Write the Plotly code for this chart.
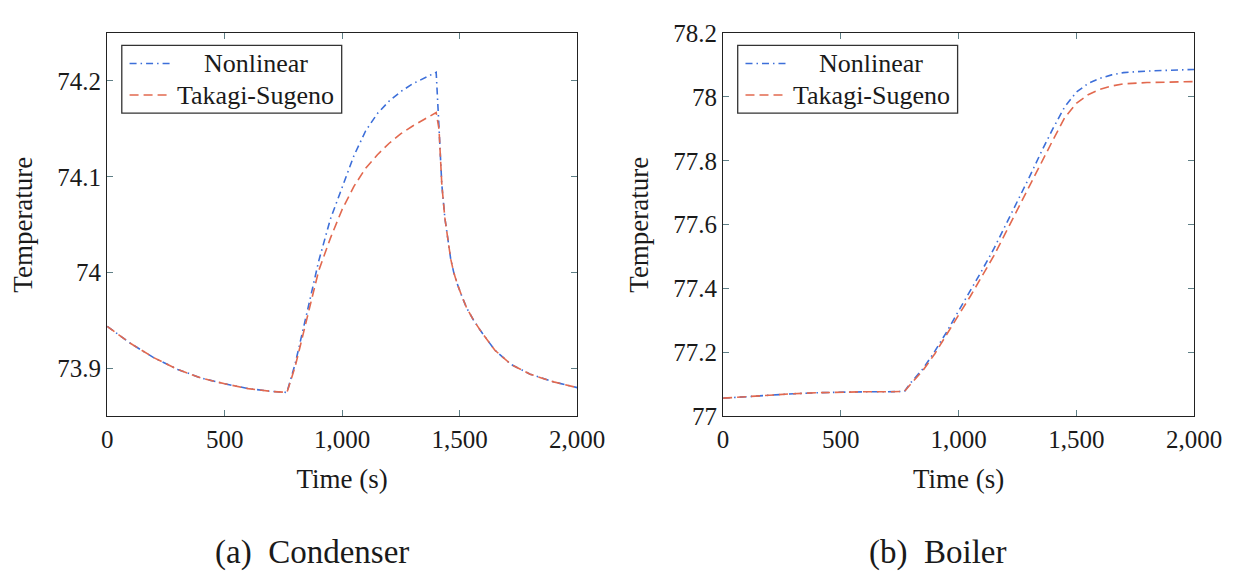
import plotly.graph_objects as go

# ---- data -------------------------------------------------------------
# Condenser temperature response
t_cond = [0, 100, 200, 300, 400, 500, 600, 700, 765, 800, 850, 900, 950, 1000,
          1050, 1100, 1150, 1200, 1250, 1300, 1350, 1400, 1412, 1424, 1437,
          1450, 1462, 1475, 1490, 1510, 1530, 1560, 1590, 1650, 1720, 1800,
          1900, 2000]
cond_nonlinear = [73.944, 73.926, 73.911, 73.899, 73.890, 73.884, 73.879, 73.876,
                  73.875, 73.905, 73.958, 74.012, 74.056, 74.090, 74.122, 74.148,
                  74.166, 74.179, 74.189, 74.197, 74.203, 74.209, 74.152, 74.092,
                  74.057, 74.032, 74.014, 74.000, 73.988, 73.975, 73.963, 73.950,
                  73.939, 73.919, 73.904, 73.894, 73.886, 73.880]
cond_ts = [73.944, 73.926, 73.911, 73.899, 73.890, 73.884, 73.879, 73.876,
           73.875, 73.902, 73.952, 74.002, 74.036, 74.066, 74.090, 74.109,
           74.123, 74.135, 74.145, 74.153, 74.160, 74.167, 74.150, 74.092,
           74.057, 74.032, 74.014, 74.000, 73.988, 73.975, 73.963, 73.950,
           73.939, 73.919, 73.904, 73.894, 73.886, 73.880]

# Boiler temperature response
t_boil = [0, 100, 200, 300, 400, 500, 600, 700, 770, 800, 850, 900, 950, 1000,
          1050, 1100, 1150, 1200, 1250, 1300, 1350, 1400, 1450, 1500, 1550,
          1600, 1650, 1700, 1800, 1900, 2000]
boil_nonlinear = [77.057, 77.062, 77.067, 77.071, 77.074, 77.076, 77.077, 77.077,
                  77.078, 77.108, 77.150, 77.205, 77.265, 77.330, 77.393, 77.458,
                  77.525, 77.598, 77.673, 77.748, 77.826, 77.900, 77.968, 78.015,
                  78.042, 78.058, 78.069, 78.076, 78.081, 78.084, 78.086]
boil_ts = [77.057, 77.062, 77.067, 77.071, 77.074, 77.076, 77.077, 77.077,
           77.078, 77.104, 77.145, 77.197, 77.255, 77.317, 77.376, 77.438,
           77.503, 77.575, 77.648, 77.720, 77.795, 77.864, 77.934, 77.980,
           78.007, 78.024, 78.034, 78.041, 78.045, 78.047, 78.048]

series_names = ["Nonlinear", "Takagi-Sugeno"]
x_ticks = [0, 500, 1000, 1500, 2000]
x_ticklabels = ["0", "500", "1,000", "1,500", "2,000"]
cond_yticks = [73.9, 74.0, 74.1, 74.2]
cond_yticklabels = ["73.9", "74", "74.1", "74.2"]
boil_yticks = [77.0, 77.2, 77.4, 77.6, 77.8, 78.0, 78.2]
boil_yticklabels = ["77", "77.2", "77.4", "77.6", "77.8", "78", "78.2"]
captions = ["(a)  Condenser", "(b)  Boiler"]

# ---- styling ----------------------------------------------------------
W, H = 1260, 582
FONT = "Liberation Serif, DejaVu Serif, serif"
BLUE = "#3d6fd9"
RED = "#e2694f"
DASH_NL = "7px,4px,1.5px,4px"
DASH_TS = "9px,5px"


def px(x):
    return x / W


def py(y):
    return 1 - y / H


panels = [
    dict(x0=104, x1=587, t=t_cond, nl=cond_nonlinear, ts=cond_ts,
         yr=[73.85, 74.25], yt=cond_yticks, ytl=cond_yticklabels, cap_x=314),
    dict(x0=737, x1=1221, t=t_boil, nl=boil_nonlinear, ts=boil_ts,
         yr=[77.0, 78.2], yt=boil_yticks, ytl=boil_yticklabels, cap_x=957),
]
top, bottom = 21, 423

fig = go.Figure()
layout = dict(
    width=W, height=H,
    margin=dict(l=0, r=0, t=0, b=0),
    paper_bgcolor="white", plot_bgcolor="white",
    showlegend=False,
    font=dict(family=FONT, size=25, color="#1a1a1a"),
)
shapes, annotations = [], []

for i, p in enumerate(panels):
    sfx = "" if i == 0 else str(i + 1)
    xa, ya = "x" + sfx, "y" + sfx
    fig.add_trace(go.Scatter(x=p["t"], y=p["nl"], name=series_names[0], mode="lines",
                             line=dict(color=BLUE, width=1.6, dash=DASH_NL),
                             xaxis=xa, yaxis=ya))
    fig.add_trace(go.Scatter(x=p["t"], y=p["ts"], name=series_names[1], mode="lines",
                             line=dict(color=RED, width=1.6, dash=DASH_TS),
                             xaxis=xa, yaxis=ya))
    axis_common = dict(showline=True, linecolor="#222", linewidth=1.3, mirror="ticks",
                       ticks="inside", ticklen=6, tickcolor="#5f7f86", tickwidth=1,
                       showgrid=False, zeroline=False,
                       tickfont=dict(family=FONT, size=25, color="#1a1a1a"))
    layout["xaxis" + sfx] = dict(
        axis_common, domain=[px(p["x0"]), px(p["x1"])], range=[0, 2000],
        tickvals=x_ticks, ticktext=x_ticklabels, anchor=ya,
        title=dict(text="Time (s)", standoff=17, font=dict(family=FONT, size=27)))
    layout["yaxis" + sfx] = dict(
        axis_common, domain=[py(bottom), py(top)], range=p["yr"],
        tickvals=p["yt"], ticktext=p["ytl"], anchor=xa,
        title=dict(text="Temperature", standoff=16, font=dict(family=FONT, size=27)))

    # legend box with line samples
    lx0, lx1 = p["x0"] + 15, p["x0"] + 241
    ly0, ly1 = 34, 105
    shapes.append(dict(type="rect", xref="paper", yref="paper",
                       x0=px(lx0), x1=px(lx1), y0=py(ly1), y1=py(ly0),
                       line=dict(color="#333", width=1.3), fillcolor="white", layer="above"))
    for name, color, dash, yc in [(series_names[0], BLUE, DASH_NL, 53),
                                  (series_names[1], RED, DASH_TS, 86)]:
        shapes.append(dict(type="line", xref="paper", yref="paper",
                           x0=px(lx0 + 8), x1=px(lx0 + 51), y0=py(yc), y1=py(yc),
                           line=dict(color=color, width=1.6, dash=dash), layer="above"))
        annotations.append(dict(text=name, xref="paper", yref="paper",
                                x=px((lx0 + 59 + lx1 - 4) / 2 - 3), y=py(yc),
                                xanchor="center", yanchor="middle", showarrow=False,
                                font=dict(family=FONT, size=26, color="#1a1a1a")))

    annotations.append(dict(text=captions[i], xref="paper", yref="paper",
                            x=px(p["cap_x"]), y=py(566),
                            xanchor="center", yanchor="middle", showarrow=False,
                            font=dict(family=FONT, size=33, color="#1a1a1a")))

layout["shapes"] = shapes
layout["annotations"] = annotations
fig.update_layout(**layout)
fig.write_html("out.html")
